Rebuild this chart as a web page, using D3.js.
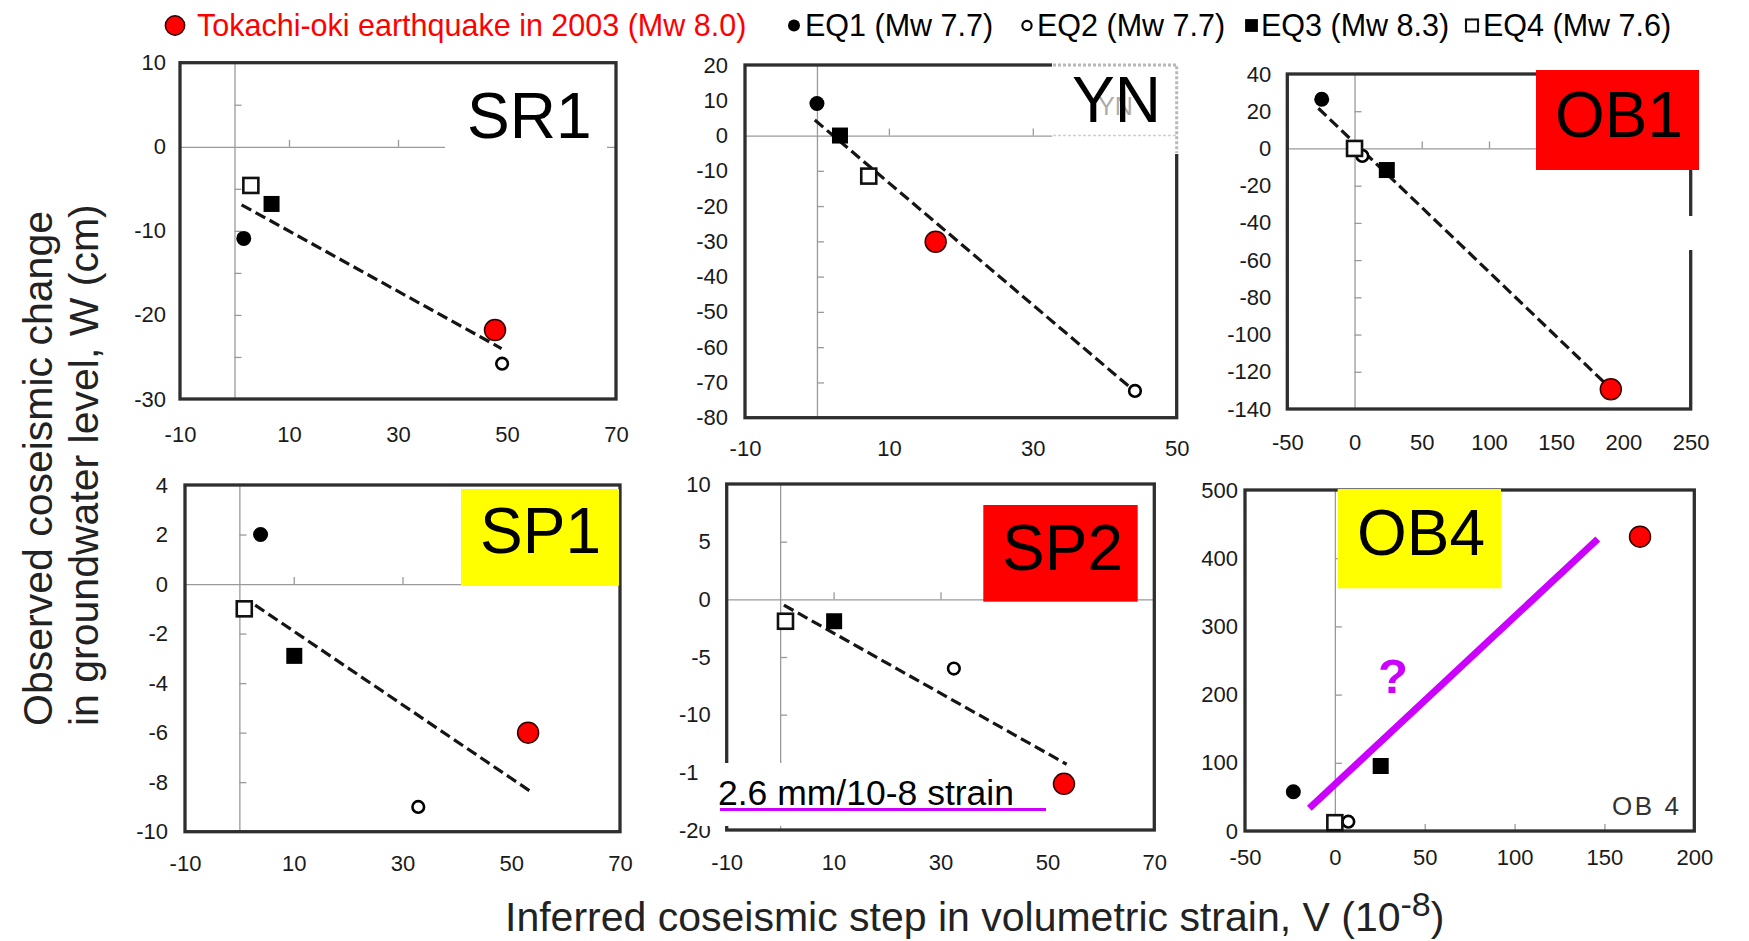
<!DOCTYPE html>
<html>
<head>
<meta charset="utf-8">
<script src="https://cdn.jsdelivr.net/npm/d3@7"></script>
<style>
  body { margin: 0; background: #fff; }
  svg { display: block; font-family: "Liberation Sans", Arial, sans-serif; }
</style>
</head>
<body>
<svg width="1749" height="941"></svg>
<script>
// point order in every station: Tokachi-oki 2003, EQ1, EQ2, EQ3, EQ4
const quakes = ["Tokachi-oki earthquake in 2003 (Mw 8.0)", "EQ1 (Mw 7.7)", "EQ2 (Mw 7.7)", "EQ3 (Mw 8.3)", "EQ4 (Mw 7.6)"];
const quakeMarks = ["red", "dot", "ring", "square", "openSquare"];

const sr1V = [47.8, 1.7, 49.1, 6.8, 3.0];
const sr1W = [-21.8, -10.9, -25.8, -6.8, -4.6];
const sr1FitV = [1.3, 49];
const sr1FitW = [-6.9, -24];

const ynV = [16.5, 0, 44.2, 3.2, 7.2];
const ynW = [-30.1, 9.1, -72.4, 0, -11.5];
const ynFitV = [-0.3, 43.7];
const ynFitW = [4.4, -71.7];

const ob1V = [190.6, -24.4, 5.8, 24, 0];
const ob1W = [-129.4, 26.4, -4, -11.6, 0];
const ob1FitV = [-26.9, 186.4];
const ob1FitW = [21.6, -126.2];

const sp1V = [53.1, 3.9, 32.9, 10.1, 0.9];
const sp1W = [-6.0, 2.0, -9.0, -2.9, -1.0];
const sp1FitV = [2.9, 53.4];
const sp1FitW = [-0.85, -8.35];

const sp2V = [53.1, null, 32.5, 10.1, 1.0];
const sp2W = [-16.0, null, -6.0, -1.9, -1.9];
const sp2FitV = [0.7, 53.6];
const sp2FitW = [-0.5, -14.3];

const ob4V = [169.8, -23.1, 7.5, 25.5, 0];
const ob4W = [431.6, 57.6, 13.7, 95.3, 12.2];
const ob4GuessV = [-14.2, 146.3];
const ob4GuessW = [33.3, 428.2];

// tick labels on the frame, and the small ticks on the zero lines
const sr1XTicks = [-10, 10, 30, 50, 70], sr1YTicks = [10, 0, -10, -20, -30];
const ynXTicks = [-10, 10, 30, 50], ynYTicks = [20, 10, 0, -10, -20, -30, -40, -50, -60, -70, -80];
const ob1XTicks = [-50, 0, 50, 100, 150, 200, 250], ob1YTicks = [40, 20, 0, -20, -40, -60, -80, -100, -120, -140];
const sp1XTicks = [-10, 10, 30, 50, 70], sp1YTicks = [4, 2, 0, -2, -4, -6, -8, -10];
const sp2XTicks = [-10, 10, 30, 50, 70], sp2YTicks = [10, 5, 0, -5, -10, -15, -20];
const ob4XTicks = [-50, 0, 50, 100, 150, 200], ob4YTicks = [500, 400, 300, 200, 100, 0];

const sr1XMinor = [10, 30, 50], sr1YMinor = [5, -5, -10, -15, -20, -25];
const ynXMinor = [10, 30], ynYMinor = [10, -10, -20, -30, -40, -50, -60, -70];
const ob1XMinor = [50, 100, 150, 200], ob1YMinor = [20, -20, -40, -60, -80, -100, -120];
const sp1XMinor = [10, 30, 50], sp1YMinor = [2, -2, -4, -6, -8];
const sp2XMinor = [10, 30, 50], sp2YMinor = [5, -5, -10, -15];
const ob4XMinor = [50, 100, 150], ob4YMinor = [100, 200, 300, 400];

const svg = d3.select("svg");
const font = "'Liberation Sans', Arial, sans-serif";
const purple = "#cc00ff";

svg.append("rect").attr("width", 1749).attr("height", 941).attr("fill", "#fff");

function mark(sel, type, cx, cy, k = 1) {
  if (type === "red") {
    sel.append("circle").attr("cx", cx).attr("cy", cy).attr("r", 10.5 * k)
      .attr("fill", "#ff0000").attr("stroke", "#330000").attr("stroke-width", 1.5);
  } else if (type === "dot") {
    sel.append("circle").attr("cx", cx).attr("cy", cy).attr("r", 7.5 * k).attr("fill", "#000");
  } else if (type === "ring") {
    sel.append("circle").attr("cx", cx).attr("cy", cy).attr("r", 5.8 * k)
      .attr("fill", "#fff").attr("stroke", "#000").attr("stroke-width", 2.6 * k);
  } else if (type === "square") {
    const s = 16 * k;
    sel.append("rect").attr("x", cx - s / 2).attr("y", cy - s / 2).attr("width", s).attr("height", s).attr("fill", "#000");
  } else {
    const s = 15 * k;
    sel.append("rect").attr("x", cx - s / 2).attr("y", cy - s / 2).attr("width", s).attr("height", s)
      .attr("fill", "#fff").attr("stroke", "#111").attr("stroke-width", 2.6 * k);
  }
}

const panels = [
  { name: "SR1", v: sr1V, w: sr1W, fitV: sr1FitV, fitW: sr1FitW, xd: [-10, 70], yd: [-30, 10],
    xTicks: sr1XTicks, yTicks: sr1YTicks, xMinor: sr1XMinor, yMinor: sr1YMinor,
    frame: [180, 62.7, 616, 399], padX: 27, padY: 14,
    box: [445, 72, 607, 168, "#fff"], text: [467, 138, 64] },
  { name: "YN", v: ynV, w: ynW, fitV: ynFitV, fitW: ynFitW, xd: [-10, 50], yd: [-80, 20],
    xTicks: ynXTicks, yTicks: ynYTicks, xMinor: ynXMinor, yMinor: ynYMinor,
    frame: [745, 65, 1176.7, 417.7], padX: 23, padY: 17,
    box: null, text: [1072, 122, 64] },
  { name: "OB1", v: ob1V, w: ob1W, fitV: ob1FitV, fitW: ob1FitW, xd: [-50, 250], yd: [-140, 40],
    xTicks: ob1XTicks, yTicks: ob1YTicks, xMinor: ob1XMinor, yMinor: ob1YMinor,
    frame: [1287.3, 74, 1690.7, 409], padX: 25, padY: 16,
    box: [1536, 70, 1699, 170, "#ff0000"], text: [1555, 137, 64] },
  { name: "SP1", v: sp1V, w: sp1W, fitV: sp1FitV, fitW: sp1FitW, xd: [-10, 70], yd: [-10, 4],
    xTicks: sp1XTicks, yTicks: sp1YTicks, xMinor: sp1XMinor, yMinor: sp1YMinor,
    frame: [185, 485, 620, 831.7], padX: 24, padY: 17,
    box: [461, 489, 619, 585.7, "#ffff00"], text: [480, 553, 64] },
  { name: "SP2", v: sp2V, w: sp2W, fitV: sp2FitV, fitW: sp2FitW, xd: [-10, 70], yd: [-20, 10],
    xTicks: sp2XTicks, yTicks: sp2YTicks, xMinor: sp2XMinor, yMinor: sp2YMinor,
    frame: [726.7, 484, 1154.3, 830], padX: 24, padY: 16,
    box: [983.3, 505, 1137.7, 601.7, "#ff0000"], text: [1002, 570, 64] },
  { name: "OB4", v: ob4V, w: ob4W, fitV: ob4GuessV, fitW: ob4GuessW, xd: [-50, 200], yd: [0, 500],
    xTicks: ob4XTicks, yTicks: ob4YTicks, xMinor: ob4XMinor, yMinor: ob4YMinor,
    frame: [1245, 490, 1694.3, 831], padX: 18, padY: 7, guess: true,
    box: [1337.7, 489, 1501, 588.3, "#ffff00"], text: [1357, 555, 64] }
];

const layers = {};

panels.forEach((p) => {
  const [x0, y0, x1, y1] = p.frame;
  const x = d3.scaleLinear().domain(p.xd).range([x0, x1]);
  const y = d3.scaleLinear().domain(p.yd).range([y1, y0]);
  const g = svg.append("g").attr("class", `panel ${p.name}`);
  layers[p.name] = { g, x, y };

  // zero lines with small ticks
  g.append("g")
    .attr("transform", `translate(${x(0)},0)`)
    .call(d3.axisRight(y).tickValues(p.yMinor).tickSize(7).tickSizeOuter(0).tickFormat(""))
    .call((a) => a.selectAll("path,line").attr("stroke", "#9a9a9a").attr("stroke-width", 1.3));
  g.append("g")
    .attr("transform", `translate(0,${y(0)})`)
    .call(d3.axisTop(x).tickValues(p.xMinor).tickSize(7).tickSizeOuter(0).tickFormat(""))
    .call((a) => a.selectAll("path,line").attr("stroke", "#9a9a9a").attr("stroke-width", 1.3));

  // frame
  g.append("rect")
    .attr("x", x0).attr("y", y0).attr("width", x1 - x0).attr("height", y1 - y0)
    .attr("fill", "none").attr("stroke", "#2e2e2e").attr("stroke-width", 3.3);

  // tick labels
  g.append("g")
    .attr("transform", `translate(${x0},0)`)
    .call(d3.axisLeft(y).tickValues(p.yTicks).tickSize(0).tickPadding(p.padY).tickFormat((d) => String(d)))
    .call((a) => a.select(".domain").remove())
    .attr("font-family", font).attr("font-size", 22)
    .selectAll("text").attr("fill", "#1a1a1a");
  g.append("g")
    .attr("transform", `translate(0,${y1})`)
    .call(d3.axisBottom(x).tickValues(p.xTicks).tickSize(0).tickPadding(p.padX).tickFormat((d) => String(d)))
    .call((a) => a.select(".domain").remove())
    .attr("font-family", font).attr("font-size", 22)
    .selectAll("text").attr("fill", "#1a1a1a");

  // regression line (dashed) or the suggested trend (purple)
  const fit = p.fitV.map((v, i) => [v, p.fitW[i]]);
  const line = d3.line().x((d) => x(d[0])).y((d) => y(d[1]));
  if (!p.guess) {
    g.append("path").attr("d", line(fit)).attr("fill", "none")
      .attr("stroke", "#151515").attr("stroke-width", 3.2).attr("stroke-dasharray", "11,5");
  }

  p.v.forEach((v, i) => {
    if (v == null) return;
    mark(g, quakeMarks[i], x(v), y(p.w[i]));
  });

  if (p.guess) {
    g.append("path").attr("d", line(fit)).attr("fill", "none")
      .attr("stroke", purple).attr("stroke-width", 7);
  }
});

// YN: faint pasted box over the top-right corner
{
  const g = layers.YN.g;
  g.append("rect").attr("x", 1052).attr("y", 62).attr("width", 127).attr("height", 92).attr("fill", "#fff");
  g.append("path").attr("d", "M1053,65H1176.7V153").attr("fill", "none")
    .attr("stroke", "#b8b8b8").attr("stroke-width", 3).attr("stroke-dasharray", "3,2");
  g.append("path").attr("d", `M1053,${layers.YN.y(0)}H1176`).attr("fill", "none")
    .attr("stroke", "#cfcfcf").attr("stroke-width", 1.5).attr("stroke-dasharray", "3,2");
  g.append("text").attr("x", 1098).attr("y", 115).attr("font-family", font).attr("font-size", 25)
    .attr("fill", "#ababab").text("YN");
}

// OB1: gap in the right border
layers.OB1.g.append("rect").attr("x", 1660).attr("y", 216).attr("width", 50).attr("height", 34).attr("fill", "#fff");

// station labels
panels.forEach((p) => {
  const g = layers[p.name].g;
  if (p.box) {
    const [bx0, by0, bx1, by1, fill] = p.box;
    g.append("rect").attr("x", bx0).attr("y", by0).attr("width", bx1 - bx0).attr("height", by1 - by0).attr("fill", fill);
  }
  g.append("text").attr("x", p.text[0]).attr("y", p.text[1])
    .attr("font-family", font).attr("font-size", p.text[2]).attr("fill", "#000").text(p.name);
});

// SP2 slope note
{
  const g = layers.SP2.g;
  g.append("rect").attr("x", 699).attr("y", 763).attr("width", 348).attr("height", 63).attr("fill", "#fff");
  g.append("text").attr("x", 718).attr("y", 805).attr("font-family", font).attr("font-size", 35.5)
    .attr("fill", "#000").text("2.6 mm/10-8 strain");
  g.append("line").attr("x1", 720).attr("x2", 1046).attr("y1", 809.5).attr("y2", 809.5)
    .attr("stroke", purple).attr("stroke-width", 3);
}

// OB4 notes
{
  const g = layers.OB4.g;
  g.append("text").attr("x", 1393).attr("y", 693).attr("text-anchor", "middle")
    .attr("font-family", font).attr("font-weight", "bold").attr("font-size", 49)
    .attr("fill", purple).text("?");
  g.append("text").attr("x", 1612).attr("y", 815).attr("font-family", font).attr("font-size", 26)
    .attr("textLength", 67).attr("lengthAdjust", "spacing").attr("fill", "#333").text("OB 4");
}

// legend
const legendMarkX = [175, 794, 1027, 1251.5, 1472];
const legendTextX = [197, 805, 1037, 1261, 1483];
const legend = svg.append("g").attr("class", "legend");
quakes.forEach((q, i) => {
  mark(legend, quakeMarks[i], legendMarkX[i], 25.5, i === 0 ? 0.92 : 0.8);
  legend.append("text").attr("x", legendTextX[i]).attr("y", 36)
    .attr("font-family", font).attr("font-size", 30.5)
    .attr("fill", i === 0 ? "#ff0000" : "#000").text(q);
});

// axis titles
const yTitle = ["Observed coseismic change", "in groundwater level, W (cm)"];
const yTitleX = [52, 98];
yTitle.forEach((t, i) => {
  svg.append("text")
    .attr("transform", `translate(${yTitleX[i]},726) rotate(-90)`)
    .attr("font-family", font).attr("font-size", 41).attr("fill", "#222").text(t);
});

const xTitle = svg.append("text").attr("x", 505).attr("y", 931)
  .attr("font-family", font).attr("font-size", 41).attr("fill", "#222");
xTitle.append("tspan").text("Inferred coseismic step in volumetric strain, V (10");
xTitle.append("tspan").attr("dy", -15).attr("font-size", 34).text("-8");
xTitle.append("tspan").attr("dy", 15).text(")");
</script>
</body>
</html>
